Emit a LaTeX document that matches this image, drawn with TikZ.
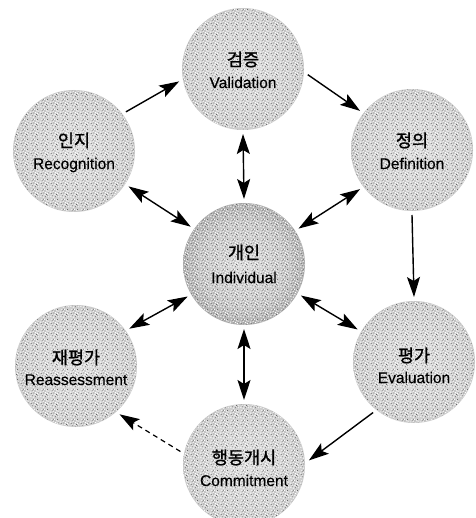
\documentclass[tikz,border=0pt]{standalone}
\usepackage{fontspec}
\setmainfont{Liberation Sans}
\newfontfamily\kr[FakeBold=1.2]{Noto Sans CJK KR}
\newfontfamily\en[FakeBold=0.4]{Liberation Sans}
\usetikzlibrary{arrows.meta,patterns}
\pgfdeclareradialshading{ballA}{\pgfpoint{0bp}{0bp}}{color(0bp)=(black!13); color(22bp)=(black!18); color(38bp)=(black!30); color(47bp)=(black!42); color(50bp)=(black!36)}
\pgfdeclareradialshading{ballB}{\pgfpoint{0bp}{0bp}}{color(0bp)=(black!14); color(18bp)=(black!22); color(36bp)=(black!45); color(47bp)=(black!62); color(50bp)=(black!52)}
\pgfdeclarepatternformonly{grainW}{\pgfqpoint{0pt}{0pt}}{\pgfqpoint{10pt}{10pt}}{\pgfqpoint{10pt}{10pt}}{%
  \foreach \px/\py in {0.5/1.2,3.1/0.4,6.3/1.8,8.7/0.9,1.8/3.6,4.9/3.1,7.6/4.2,0.2/5.9,2.9/6.4,5.7/5.6,8.4/6.9,1.3/8.5,4.2/8.9,6.8/8.1,9.0/3.0}{%
    \pgfpathrectangle{\pgfpoint{\px pt}{\py pt}}{\pgfqpoint{1pt}{1pt}}}%
  \pgfusepath{fill}}
\pgfdeclarepatternformonly{grainD}{\pgfqpoint{0pt}{0pt}}{\pgfqpoint{10pt}{10pt}}{\pgfqpoint{10pt}{10pt}}{%
  \foreach \px/\py in {2.2/2.1,5.5/0.9,8.0/2.6,0.9/4.6,3.8/5.0,6.6/3.4,9.0/5.2,2.0/7.6,5.1/7.3,7.8/9.0,3.4/9.1}{%
    \pgfpathrectangle{\pgfpoint{\px pt}{\py pt}}{\pgfqpoint{0.8pt}{0.8pt}}}%
  \pgfusepath{fill}}
\tikzset{
  sph/.style={circle, minimum size=122pt, inner sep=0pt, outer sep=4pt, shading=ballA},
  sphB/.style={sph, shading=ballB},
  kt/.style={anchor=base, inner sep=0pt, font=\fontsize{17.5}{19}\selectfont\kr},
  et/.style={anchor=base, inner sep=0pt, font=\fontsize{15.5}{17}\selectfont\en},
  tip/.tip={Stealth[length=20pt,width=13pt,inset=4pt]},
  arr/.style={-tip, line width=1.4pt},
  darr/.style={tip-tip, line width=1.4pt},
  dasharr/.style={-tip, line width=1.2pt, dash pattern=on 5pt off 4pt}
}
\newcommand\mygrain[1]{%
  \fill[pattern=grainW, pattern color=white] (#1.center) circle (60.5);
  \fill[pattern=grainD, pattern color=black!60] (#1.center) circle (60.5);
}
\begin{document}
\begin{tikzpicture}[x=1pt,y=-1pt]
\useasboundingbox (0,0) rectangle (475,518);
\fill[white] (0,0) rectangle (475,518);
% spheres
\node[sph]  (V) at (243,69)  {};
\node[sph]  (R) at (74,151)  {};
\node[sph]  (D) at (412,150) {};
\node[sphB] (I) at (244,264) {};
\node[sph]  (Re) at (76,366) {};
\node[sph]  (E) at (414,362) {};
\node[sph]  (C) at (244,465) {};
\mygrain{V}\mygrain{R}\mygrain{D}\mygrain{I}\mygrain{Re}\mygrain{E}\mygrain{C}
% labels
\node[kt] (Vk) at (243,66) {검증};
\node[et] (Ve) at (243,88) {Validation};
\node[kt] (Rk) at (74,147) {인지};
\node[et] (Re2) at (74,169) {Recognition};
\node[kt] (Dk) at (412,147) {정의};
\node[et] (De) at (412,169) {Definition};
\node[kt] (Ik) at (244,259) {개인};
\node[et] (Ie) at (244,283) {Individual};
\node[kt] (Rek) at (76,364) {재평가};
\node[et] (Ree) at (76,385) {Reassessment};
\node[kt] (Ek) at (414,362) {평가};
\node[et] (Ee) at (414,383) {Evaluation};
\node[kt] (Ck) at (244,464) {행동개시};
\node[et] (Ce) at (244,486) {Commitment};
% connectors
\draw[arr]  (R.37)    -- (V.191);
\draw[arr]  (V.-5)    -- (D.143);
\draw[darr] (V.south) -- (I.north);
\draw[darr] (R.-33)   -- (I.145);
\draw[darr] (D.217)   -- (I.33);
\draw[arr]  (D.south) -- (E.north);
\draw[darr] (I.210)   -- (Re.35);
\draw[darr] (I.-29)   -- (E.150);
\draw[darr] (I.south) -- (C.north);
\draw[arr]  (E.231)   -- (C.4);
\draw[dasharr] (C.168) -- (Re.-48);
\end{tikzpicture}
\end{document}
